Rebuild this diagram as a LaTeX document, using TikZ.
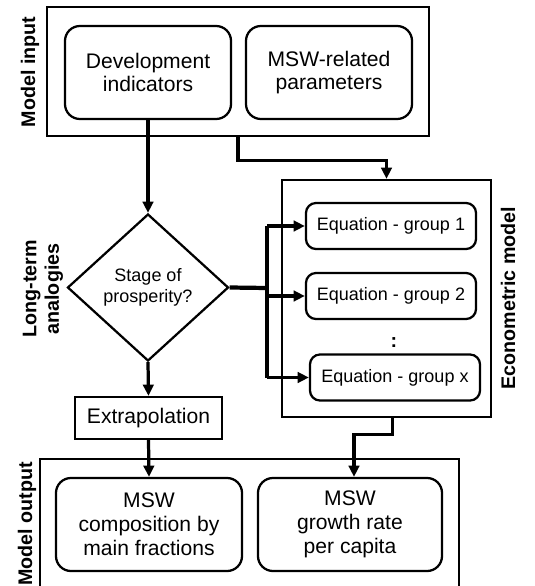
\documentclass[tikz,border=0pt]{standalone}
\usepackage{fontspec}
\setmainfont{Liberation Sans}
\usetikzlibrary{arrows.meta, positioning, shapes.geometric}

\begin{document}
\begin{tikzpicture}[x=0.025cm, y=-0.025cm,
    frame/.style={draw, line width=1.6pt, inner sep=0pt},
    rbox/.style={draw, line width=1.6pt, rounded corners=0.375cm, align=center, inner sep=0pt,
        minimum height=2.325cm, font=\fontsize{15}{17}\selectfont},
    eqbox/.style={draw, line width=1.6pt, rounded corners=0.25cm, minimum width=4.25cm,
        minimum height=1.15cm, inner sep=0pt, font=\fontsize{12.8}{15}\selectfont},
    lab/.style={rotate=90, align=center, font=\fontsize{14}{16}\selectfont\bfseries},
    flow/.style={line width=2.3pt, -{Triangle[length=8pt, width=7.5pt]}}]
    \useasboundingbox (0,0) rectangle (534,586);
    \clip (0,0) rectangle (534,586);

    % Model input
    \node[frame, minimum width=9.55cm, minimum height=3.225cm] (input) at (238,71.5) {};
    \node[lab] (inlab) at (30,72) {Model input};
    \node[rbox, minimum width=4.15cm] (devind) at (148,72.5) {Development\\indicators};
    \node[rbox, minimum width=4.15cm] (mswpar) at (329,72.5) {MSW-related\\parameters};

    % Long-term analogies
    \node[lab] (ltlab) at (43,289) {Long-term\\analogies};
    \node[draw, diamond, line width=1.6pt, minimum width=4.025cm, minimum height=3.675cm,
        inner sep=0pt, align=center, font=\fontsize{12.8}{15}\selectfont] (stage) at (148,287.5) {Stage of\\prosperity?};
    \node[frame, minimum width=3.675cm, minimum height=1.05cm,
        font=\fontsize{15}{17}\selectfont] (extrap) at (148.5,418) {Extrapolation};

    % Econometric model
    \node[frame, minimum width=5.225cm, minimum height=5.925cm] (econ) at (386.5,298.5) {};
    \node[lab] (econlab) at (508,298) {Econometric model};
    \node[eqbox] (eq1) at (391,226) {Equation - group 1};
    \node[eqbox] (eq2) at (391,296) {Equation - group 2};
    \node[font=\fontsize{14}{15}\selectfont\bfseries] (dots) at (394,343) {:};
    \node[eqbox] (eqx) at (395,377.5) {Equation - group x};

    % Model output
    \node[frame, minimum width=10.475cm, minimum height=4.025cm] (output) at (249.5,539.5) {};
    \node[lab] (outlab) at (27,524) {Model output};
    \node[rbox, minimum width=4.65cm] (comp) at (149,524.5) {MSW\\composition by\\main fractions};
    \node[rbox, minimum width=4.6cm] (growth) at (350,524.5) {MSW\\growth rate\\per capita};

    % connectors
    \draw[flow] (devind.south) -- (stage.north);
    \draw[flow] (input.south) -- ++(0,23) -| (econ.north);
    \coordinate (split) at (267,288);
    \draw[line width=3pt] (stage.east) -- (split);
    \draw[line width=2.3pt] (split |- eq1.west) -- (split |- eqx.west);
    \foreach \e in {eq1,eq2,eqx}
        \draw[flow] (split |- \e.west) -- (\e.west);
    \draw[flow] (stage.south) -- (extrap.north);
    \draw[flow] (extrap.south) -- (comp.north);
    \draw[flow] ([xshift=0.15cm]econ.south) -- ++(0,16) -| ([xshift=0.1cm]growth.north);
\end{tikzpicture}
\end{document}
